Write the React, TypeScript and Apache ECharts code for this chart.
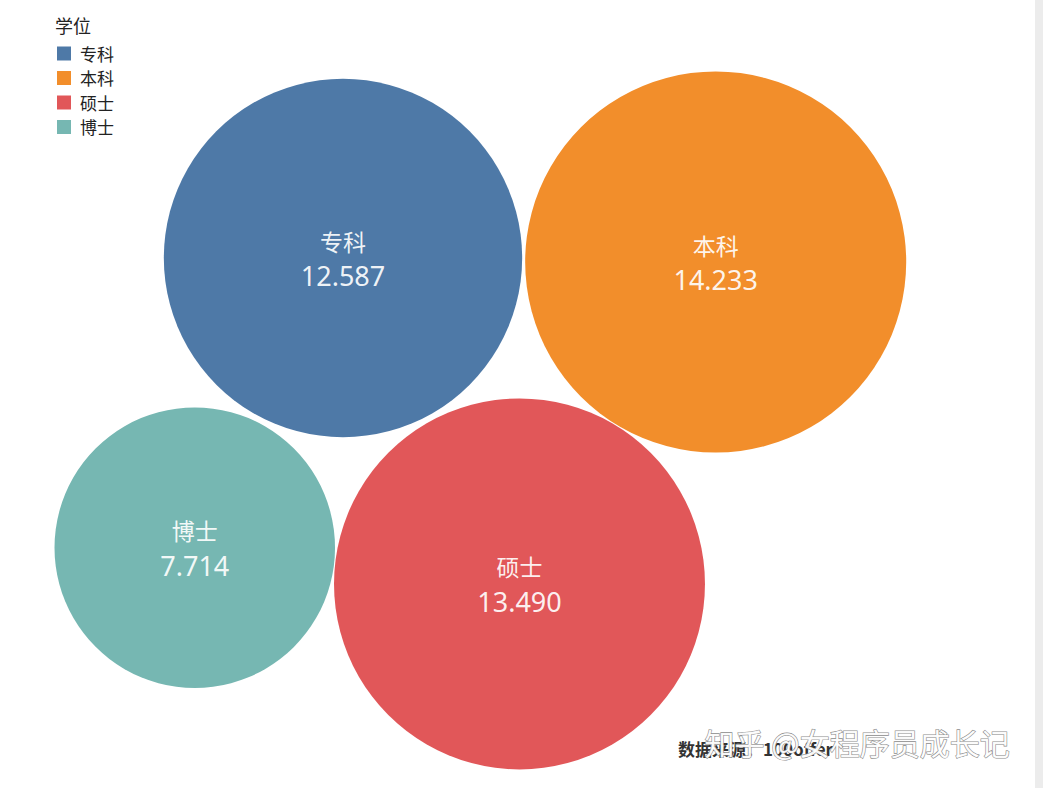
import React, { useEffect, useRef } from 'react';
import * as echarts from 'echarts';

// 学位 / 数值
const degrees = ['专科', '本科', '硕士', '博士'];
const values = [12.587, 14.233, 13.49, 7.714];
const colors = ['#4e79a7', '#f28e2b', '#e15759', '#76b7b2'];
const legendTitle = '学位';
const sourceText = '数据来源：100offer';
const watermark = '知乎 @女程序员成长记';

const W = 1043;
const H = 788;
const K = 50.5; // 半径 = K * sqrt(值)

type Pt = [number, number];

// 与两个圆同时相切的圆心（g1、g2 为留出的缝隙）
function tangent(c1: Pt, r1: number, g1: number, c2: Pt, r2: number, g2: number, r: number): Pt {
  const dx = c2[0] - c1[0];
  const dy = c2[1] - c1[1];
  const d = Math.hypot(dx, dy);
  const d1 = r1 + r + g1;
  const d2 = r2 + r + g2;
  const a = (d1 * d1 - d2 * d2 + d * d) / (2 * d);
  const h = Math.sqrt(Math.max(0, d1 * d1 - a * a));
  const ux = dx / d;
  const uy = dy / d;
  return [c1[0] + a * ux - h * uy, c1[1] + a * uy + h * ux];
}

function packLayout(): Pt[] {
  const r = values.map(v => K * Math.sqrt(v));
  const a: Pt = [343, 258];
  const b: Pt = [a[0] + r[0] + r[1] + 3, a[1] + 4];
  const c = tangent(a, r[0], 6, b, r[1], 1, r[2]);
  const d = tangent(a, r[0], 6, c, r[2], 1, r[3]);
  return [a, b, c, d];
}

const App: React.FC = () => {
  const chartRef = useRef<HTMLDivElement>(null);

  useEffect(() => {
    if (!chartRef.current) return;
    const chart = echarts.init(chartRef.current, undefined, { renderer: 'svg' });
    const centers = packLayout();

    const option = {
      animation: false,
      backgroundColor: '#fff',
      title: {
        text: legendTitle,
        left: 50,
        top: 11,
        textStyle: { fontSize: 18, fontWeight: 'normal', color: '#222', fontFamily: 'Noto Sans CJK SC' }
      },
      legend: {
        orient: 'vertical',
        left: 52,
        top: 40,
        icon: 'rect',
        itemWidth: 14,
        itemHeight: 14,
        itemGap: 7.5,
        data: degrees,
        textStyle: { fontSize: 17, lineHeight: 16, color: '#222', padding: [0, 0, 0, 4], fontFamily: 'Noto Sans CJK SC' }
      },
      grid: { left: 0, right: 0, top: 0, bottom: 0 },
      xAxis: { type: 'value', min: 0, max: W, show: false },
      yAxis: { type: 'value', min: 0, max: H, inverse: true, show: false },
      series: degrees.map((name, i) => ({
        name,
        type: 'scatter',
        symbol: 'circle',
        symbolSize: 2 * K * Math.sqrt(values[i]),
        itemStyle: { color: colors[i], opacity: 1 },
        label: {
          show: true,
          position: 'inside',
          formatter: () => `{n|${name}}\n{v|${values[i].toFixed(3)}}`,
          rich: {
            n: { fontSize: 23, lineHeight: 35, color: 'rgba(255,255,255,0.92)', fontFamily: 'Noto Sans CJK SC' },
            v: { fontSize: 27, lineHeight: 35, color: 'rgba(255,255,255,0.92)', fontFamily: 'Noto Sans' }
          }
        },
        data: [{ name, value: centers[i] }]
      })),
      graphic: [
        {
          type: 'rect',
          shape: { x: 1035, y: 0, width: 8, height: H },
          style: { fill: '#ececec' },
          z: 100
        },
        {
          type: 'text',
          left: 678,
          top: 740,
          style: {
            text: sourceText,
            fontSize: 17,
            fontWeight: 'bold',
            fill: '#333',
            fontFamily: 'Noto Sans CJK SC'
          },
          z: 100
        },
        {
          type: 'text',
          left: 704,
          top: 726,
          style: {
            text: watermark,
            fontSize: 30,
            fill: 'rgba(255,255,255,0.95)',
            stroke: '#8c8c8c',
            lineWidth: 1.2,
            fontFamily: 'Noto Sans CJK SC'
          },
          z: 101
        }
      ]
    };

    chart.setOption(option);
    return () => chart.dispose();
  }, []);

  return (
    <div
      ref={chartRef}
      style={{ position: 'fixed', left: 0, top: 0, width: W, height: H }}
    />
  );
};

export default App;
